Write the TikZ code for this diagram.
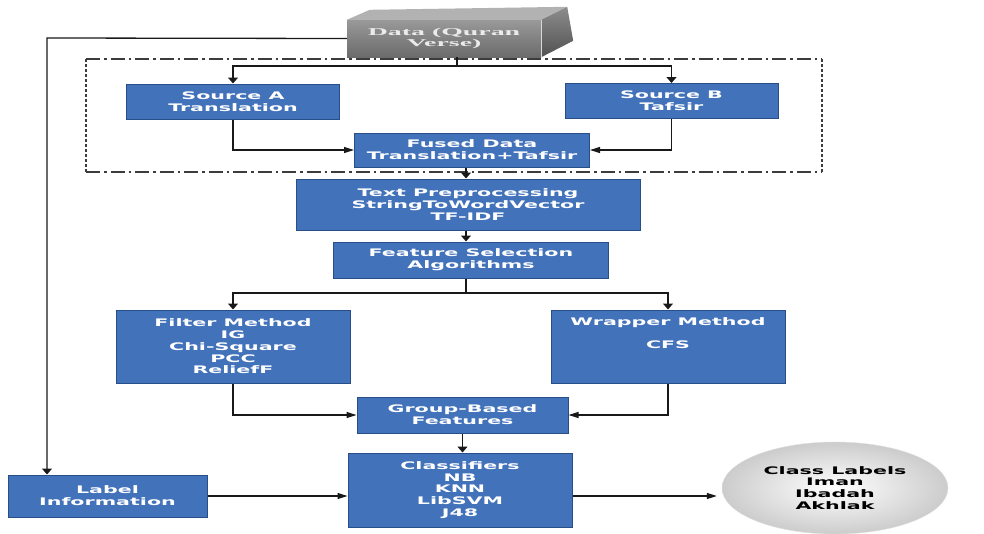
\documentclass[tikz,border=0pt]{standalone}
\usepackage{fontspec}
\usetikzlibrary{arrows.meta,shapes.geometric}
\newfontfamily\boxfont[FakeStretch=1.98]{DejaVu Sans}
\newfontfamily\datafont[FakeStretch=2.65]{Liberation Serif}
\definecolor{boxblue}{RGB}{66,114,186}
\definecolor{boxedge}{RGB}{40,78,135}
\definecolor{linecol}{RGB}{25,25,25}
\definecolor{frameline}{RGB}{60,60,60}
\begin{document}
\begin{tikzpicture}[x=1pt,y=-1pt,
  blk/.style={draw=boxedge,line width=1pt,fill=boxblue,text=white,
    font=\boxfont\bfseries\fontsize{10.4}{11.8}\selectfont,align=center,inner sep=0pt},
  conn/.style={draw=linecol,line width=1.3pt},
  arrowv/.style={conn,-{Triangle[length=6pt,width=10pt]}},
  arrowh/.style={conn,-{Triangle[length=10pt,width=6pt]}},
  dashh/.style={draw=frameline,line width=1.1pt,dash pattern=on 14pt off 4pt on 2.5pt off 4pt},
  dashv/.style={draw=frameline,line width=1.3pt,dash pattern=on 2.5pt off 2.5pt},
  datafront/.style={top color=black!40,bottom color=black!58,draw=none,
    text=white!92!black,font=\datafont\bfseries\fontsize{10.5}{11.5}\selectfont,
    align=center,inner sep=0pt,minimum width=194pt,minimum height=37pt}
]
\useasboundingbox (0,0) rectangle (984,533);

% dash-dot frame
\draw[dashh] (86,59) -- (822,59);
\draw[dashh] (86,172) -- (822,172);
\draw[dashv] (86,59) -- (86,172);
\draw[dashv] (822,59) -- (822,172);

% data box (3D)
\node[datafront] (data) at (444,38.5) {Data (Quran\\Verse)};
\fill[black!30] (data.north west) -- ++(23,-10) -- ([shift={(26,-13)}]data.north east) -- (data.north east) -- cycle;
\shade[top color=black!45,bottom color=black!68] (data.north east) -- ++(26,-13) -- ++(6,34) -- (data.south east) -- cycle;
\draw[white!85!black,line width=0.8pt] (data.north east) -- (data.south east);

% blue boxes
\node[blk,minimum width=213pt,minimum height=35pt] (srcA) at (233,101.5) {Source A\\Translation};
\node[blk,minimum width=213pt,minimum height=35pt] (srcB) at (671.5,101) {Source B\\Tafsir};
\node[blk,minimum width=235pt,minimum height=34pt] (fused) at (472,150) {Fused Data\\Translation+Tafsir};
\node[blk,minimum width=344pt,minimum height=51pt] (text) at (468,204.5) {Text Preprocessing\\StringToWordVector\\TF-IDF};
\node[blk,minimum width=275pt,minimum height=36pt] (feat) at (471,260) {Feature Selection\\Algorithms};
\node[blk,minimum width=234pt,minimum height=73pt] (filter) at (233,346.5) {Filter Method\\IG\\Chi-Square\\PCC\\ReliefF};
\node[blk,minimum width=234pt,minimum height=73pt] (wrapper) at (668,346.5) {Wrapper Method\\\strut\\CFS\\\strut\\\strut};
\node[blk,minimum width=211pt,minimum height=36pt] (group) at (462.5,415) {Group-Based\\Features};
\node[blk,minimum width=224pt,minimum height=74pt] (classif) at (460,490) {Classifiers\\NB\\KNN\\LibSVM\\J48};
\node[blk,minimum width=199pt,minimum height=42pt] (label) at (107.5,496) {Label\\Information};
\node[ellipse,shading=radial,inner color=white,outer color=black!20,draw=black!12,
  minimum width=226pt,minimum height=92pt,inner sep=0pt,align=center,
  font=\boxfont\bfseries\fontsize{10.4}{11.8}\selectfont,text=black] (cls) at (835,488)
  {Class Labels\\Iman\\Ibadah\\Akhlak};

% connectors
\coordinate (lk) at (47,38);
\draw[arrowv] (data.west) -- (lk) -- (lk |- label.north);
\coordinate (split) at (457,66);
\draw[conn] (data.south -| split) -- (split);
\draw[arrowv] (split) -| (srcA.north);
\draw[arrowv] (split) -| (srcB.north);
\draw[arrowh] (srcA.south) |- (fused.west);
\draw[arrowh] (srcB.south) |- (fused.east);
\coordinate (mid) at (466,0);
\draw[arrowv] (fused.south -| mid) -- (text.north -| mid);
\draw[arrowv] (text.south -| mid) -- (feat.north -| mid);
\coordinate (fs) at (466,293);
\draw[conn] (feat.south -| fs) -- (fs);
\draw[arrowv] (fs) -| (filter.north);
\draw[arrowv] (fs) -| (wrapper.north);
\draw[arrowh] (filter.south) |- (group.west);
\draw[arrowh] (wrapper.south) |- (group.east);
\draw[arrowv] (group.south) -- (group.south |- classif.north);
\draw[arrowh] (label.east) -- (label.east -| classif.west);
\draw[arrowh] (classif.east |- label.east) -- ([xshift=-5pt]cls.west |- label.east);
\end{tikzpicture}
\end{document}
